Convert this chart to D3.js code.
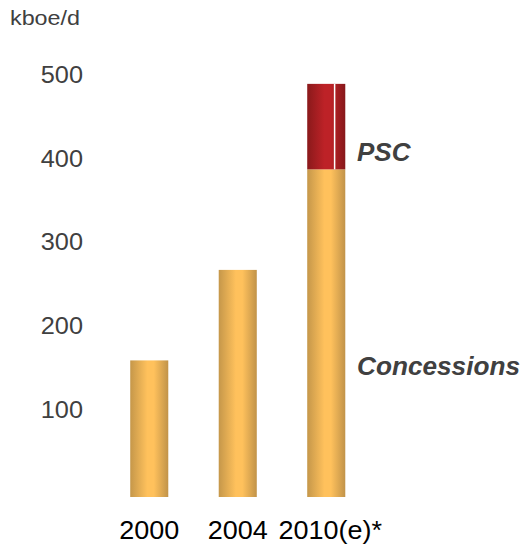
<!DOCTYPE html>
<html>
<head>
<meta charset="utf-8">
<script src="https://cdn.jsdelivr.net/npm/d3@7"></script>
<style>
  body { margin: 0; background: #fff; }
  text { font-family: Arial, "Liberation Sans", sans-serif; }
</style>
</head>
<body>
<svg width="522" height="548"></svg>
<script>
// data
var years = ["2000", "2004", "2010(e)*"];
var concessions = [163, 271, 391];
var psc = [0, 0, 102];
var yTicks = [100, 200, 300, 400, 500];

var svg = d3.select("svg"),
	defs = svg.append("defs");

var x = d3.scaleBand()
	.domain(years)
	.range([105, 370.5])
	.paddingInner(0.57)
	.paddingOuter(0.285);

var y = d3.scaleLinear()
	.domain([0, 500])
	.range([497, 78]);

// cylinder-ish shading on the bars
function gradient(id, edgeL, mid, edgeR) {
	var g = defs.append("linearGradient")
		.attr("id", id)
		.attr("x1", "0%").attr("x2", "100%")
		.attr("y1", "0%").attr("y2", "0%");
	g.append("stop").attr("offset", "0%").attr("stop-color", edgeL);
	g.append("stop").attr("offset", "45%").attr("stop-color", mid);
	g.append("stop").attr("offset", "62%").attr("stop-color", mid);
	g.append("stop").attr("offset", "100%").attr("stop-color", edgeR);
}
gradient("gold", "#c5974a", "#ffc15c", "#c19349");
gradient("red", "#8a191b", "#bd2227", "#86181a");

var stacked = years.map(function(d, i) {
	return { year: d, con: concessions[i], psc: psc[i] };
});

svg.selectAll(".con")
	.data(stacked)
	.enter()
	.append("rect")
	.attr("class", "con")
	.attr("x", function(d) { return x(d.year); })
	.attr("width", x.bandwidth())
	.attr("y", function(d) { return y(d.con); })
	.attr("height", function(d) { return y(0) - y(d.con); })
	.attr("fill", "url(#gold)");

var pscBars = stacked.filter(function(d) { return d.psc > 0; });

svg.selectAll(".psc")
	.data(pscBars)
	.enter()
	.append("rect")
	.attr("class", "psc")
	.attr("x", function(d) { return x(d.year); })
	.attr("width", x.bandwidth())
	.attr("y", function(d) { return y(d.con + d.psc); })
	.attr("height", function(d) { return y(d.con) - y(d.con + d.psc); })
	.attr("fill", "url(#red)");

// thin white seam in the PSC segment
svg.selectAll(".seam")
	.data(pscBars)
	.enter()
	.append("rect")
	.attr("class", "seam")
	.attr("x", function(d) { return x(d.year) + x.bandwidth() * 0.7; })
	.attr("width", 1.5)
	.attr("y", function(d) { return y(d.con + d.psc); })
	.attr("height", function(d) { return y(d.con) - y(d.con + d.psc); })
	.attr("fill", "#fff");

// the original glyphs are a bit wider than Arial, so stretch them
var stretch = 1.1;

// y tick labels, no axis line
var yAxis = svg.append("g")
	.attr("transform", "translate(83,0)")
	.call(d3.axisLeft(y).tickValues(yTicks).tickSize(0).tickPadding(0));
yAxis.select(".domain").remove();
yAxis.selectAll("text")
	.attr("dy", "0.32em")
	.attr("y", -3)
	.attr("font-size", 23)
	.attr("font-family", "Arial, 'Liberation Sans', sans-serif")
	.attr("fill", "#404040")
	.attr("textLength", function() { return this.getComputedTextLength() * stretch; })
	.attr("lengthAdjust", "spacingAndGlyphs");

// x labels
var xAxis = svg.append("g")
	.attr("transform", "translate(0,521)")
	.call(d3.axisBottom(x).tickSize(0).tickPadding(0));
xAxis.select(".domain").remove();
xAxis.selectAll("text")
	.attr("dy", "0.71em")
	.attr("font-size", 25)
	.attr("x", function(d, i) { return i === years.length - 1 ? 4 : 0; })
	.attr("font-family", "Arial, 'Liberation Sans', sans-serif")
	.attr("fill", "#000")
	.attr("textLength", function() { return this.getComputedTextLength() * 1.08; })
	.attr("lengthAdjust", "spacingAndGlyphs");

svg.append("text")
	.attr("x", 10)
	.attr("y", 25)
	.attr("font-size", 21)
	.attr("fill", "#404040")
	.attr("textLength", 70)
	.attr("lengthAdjust", "spacingAndGlyphs")
	.text("kboe/d");

// series labels
svg.append("text")
	.attr("x", 357)
	.attr("y", 161)
	.attr("font-size", 26)
	.attr("font-weight", "bold")
	.attr("font-style", "italic")
	.attr("fill", "#404040")
	.text("PSC");

svg.append("text")
	.attr("x", 357)
	.attr("y", 375)
	.attr("font-size", 26)
	.attr("font-weight", "bold")
	.attr("font-style", "italic")
	.attr("fill", "#404040")
	.attr("textLength", 163)
	.attr("lengthAdjust", "spacingAndGlyphs")
	.text("Concessions");
</script>
</body>
</html>
